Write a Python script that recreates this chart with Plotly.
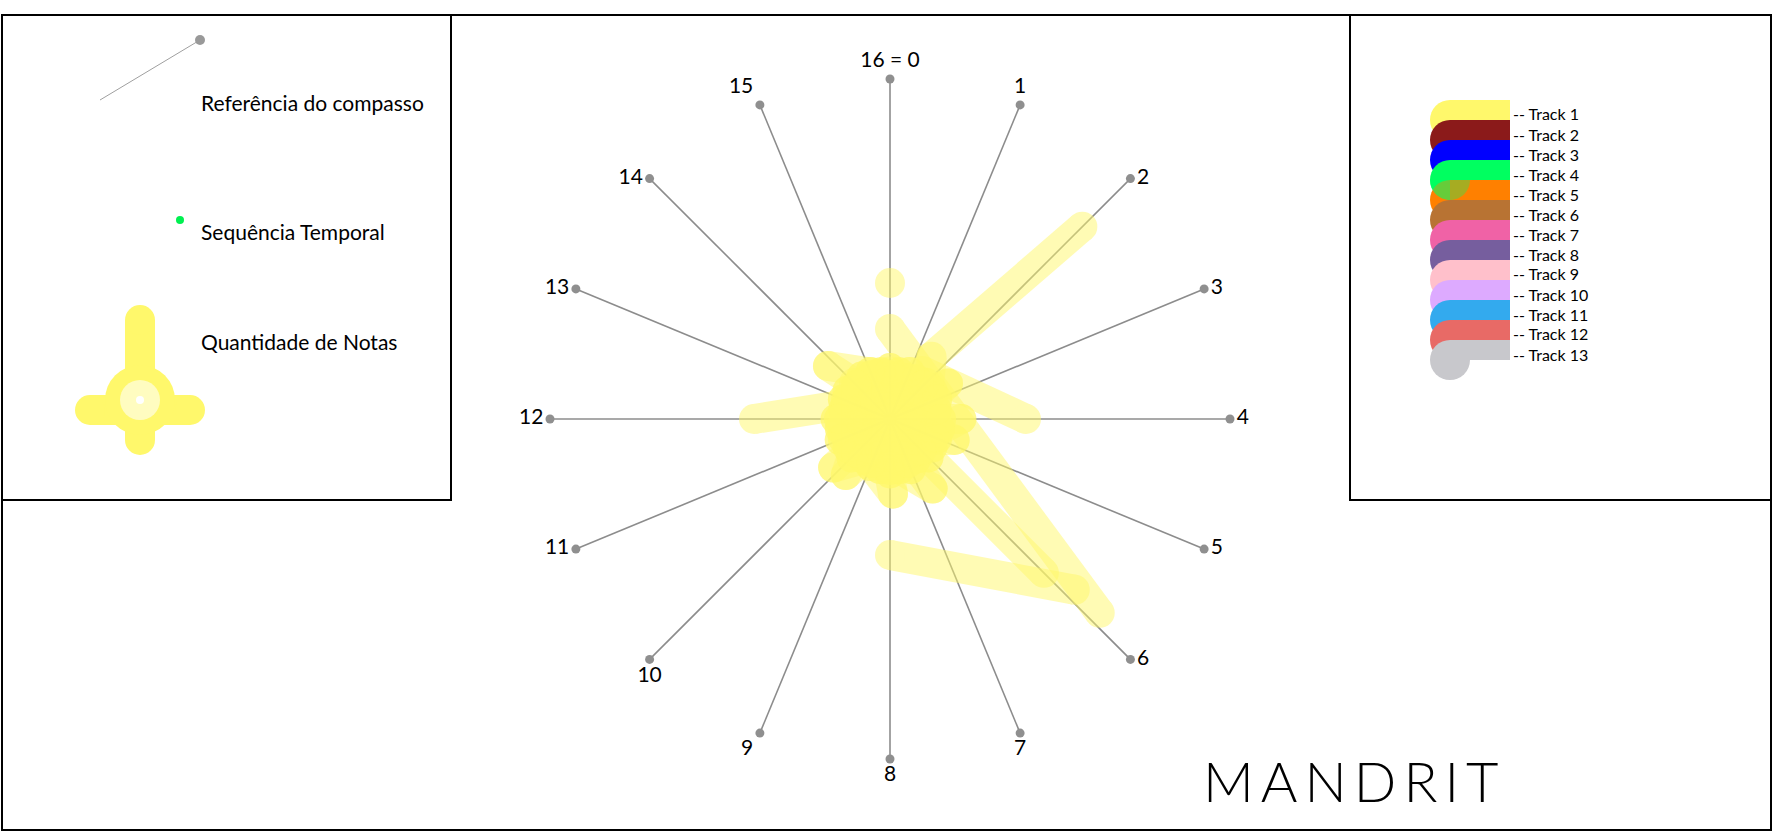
import plotly.graph_objects as go

W, H = 1780, 840

# ---------------- data ----------------
# compass reference: 16 steps of the measure
steps = list(range(16))
step_labels = ["16 = 0"] + [str(i) for i in range(1, 16)]
label_pos = ["top center", "top center", "middle right", "middle right", "middle right",
             "middle right", "middle right", "bottom center", "bottom center", "bottom left",
             "bottom center", "middle left", "middle left", "middle left", "middle left",
             "top left"]

# temporal sequence of Track 1 (step in measure, normalised radius); None = pen up
track1_step = [
    0, None,
    0, 5.9, None,
    4, 1.5, None,
    12, 13, None,
    8, 5.9, None,
    6, 6, None,
    2, 1.5, 3, 11, 6.6, 14, 13.8, 1, 9, 4, 12, 7.9, 15, 2, 10.2, 5, 13, 8, 0, 6, 12,
    2.6, 9.7, 14, 4.8, 11, 1, 7, 13, 4, 10, 15, 8, 2, 0,
    0.5, 8.5, 4.5, 12.5, 2.5, 10.5, 6.5, 14.5, 1.5, 9.5, 5.5, 13.5, 3.5, 11.5, 7.5, 15.5,
    3, 11, 7, 15, 5, 13, 1, 9, 6, 14, 10, 2, 12, 4, 8, 0,
]
track1_r = [
    0.40, None,
    0.265, 0.84, None,
    0.40, 0.17, None,
    0.40, 0.12, None,
    0.40, 0.74, None,
    0.64, 0.15, None,
    0.80, 0.22, 0.12, 0.14, 0.24, 0.15, 0.24, 0.13, 0.15, 0.21, 0.16, 0.22, 0.14, 0.15,
    0.22, 0.15, 0.15, 0.14, 0.15, 0.16, 0.10, 0.20, 0.21, 0.08, 0.20, 0.16, 0.07, 0.16,
    0.09, 0.06, 0.16, 0.10, 0.16, 0.10, 0.05,
    0.14, 0.15, 0.15, 0.14, 0.15, 0.15, 0.14, 0.15, 0.14, 0.14, 0.15, 0.15, 0.14, 0.15,
    0.15, 0.14,
    0.15, 0.15, 0.14, 0.15, 0.14, 0.14, 0.15, 0.14, 0.13, 0.14, 0.14, 0.14, 0.15, 0.15,
    0.15, 0.14,
]

track_names = ["Track %d" % i for i in range(1, 14)]
track_colors = ["#FFF86B", "#8B1A1A", "#0000FF", "#00FF60", "#FF8000", "#B87333", "#F062A6",
                "#765E9E", "#FFC0CB", "#DDAAFF", "#33AAEE", "#E86A66", "#C8C8CC"]

FONT = "Lato"
STEP_DEG = 360 / 16
STROKE = 30

fig = go.Figure()

# spokes
sp_r, sp_t = [], []
for s in steps:
    sp_r += [0, 1, None]
    sp_t += [s * STEP_DEG, s * STEP_DEG, None]
fig.add_trace(go.Scatterpolar(r=sp_r, theta=sp_t, mode="lines",
                              line=dict(color="#8c8c8c", width=1.6), hoverinfo="skip"))

# track 1 strokes (each segment separately translucent)
segs = []
run = []
for s, r in zip(track1_step + [None], track1_r + [None]):
    if s is None:
        if len(run) == 1:
            segs.append([run[0], run[0]])
        run = []
        continue
    if run:
        segs.append([run[-1], (s, r)])
    run.append((s, r))

for a, b in segs:
    if a == b:
        fig.add_trace(go.Scatterpolar(r=[a[1]], theta=[a[0] * STEP_DEG], mode="markers",
                                      marker=dict(size=STROKE, color=track_colors[0]),
                                      opacity=0.5, hoverinfo="skip"))
    else:
        fig.add_trace(go.Scatterpolar(r=[a[1], b[1]], theta=[a[0] * STEP_DEG, b[0] * STEP_DEG],
                                      mode="lines+markers",
                                      line=dict(color=track_colors[0], width=STROKE),
                                      marker=dict(size=STROKE, color=track_colors[0]),
                                      opacity=0.5, hoverinfo="skip"))

# spoke end dots + labels
fig.add_trace(go.Scatterpolar(r=[1] * 16, theta=[s * STEP_DEG for s in steps],
                              mode="markers+text", text=step_labels, textposition=label_pos,
                              marker=dict(size=9, color="#8f8f8f"),
                              textfont=dict(family=FONT, size=21, color="black"),
                              hoverinfo="skip"))

# ---------------- layout helpers ----------------
def px(x):
    return x / W


def py(y):
    return 1 - y / H


shapes = []


def rect(x0, y0, x1, y1, fill=None, line=None):
    d = dict(type="rect", xref="paper", yref="paper", x0=px(x0), x1=px(x1), y0=py(y1), y1=py(y0))
    if fill:
        d["fillcolor"] = fill
    d["line"] = line if line else dict(width=0)
    shapes.append(d)


def circle(cx, cy, r, fill):
    shapes.append(dict(type="circle", xref="paper", yref="paper",
                       x0=px(cx - r), x1=px(cx + r), y0=py(cy + r), y1=py(cy - r),
                       fillcolor=fill, line=dict(width=0)))


def quarter(cx, cy, r, side, fill):
    k = 0.5523 * r
    if side == "left":
        pts = [(cx, cy), (cx - r, cy), (cx - r, cy + k), (cx - k, cy + r), (cx, cy + r)]
    else:
        pts = [(cx, cy), (cx, cy + r), (cx + k, cy + r), (cx + r, cy + k), (cx + r, cy)]
    f = lambda p: "%.6f,%.6f" % (px(p[0]), py(p[1]))
    path = "M %s L %s C %s %s %s Z" % (f(pts[0]), f(pts[1]), f(pts[2]), f(pts[3]), f(pts[4]))
    shapes.append(dict(type="path", xref="paper", yref="paper", path=path,
                       fillcolor=fill, line=dict(width=0)))


# frames
frame = dict(color="black", width=2)
rect(2, 15, 1771, 830, line=frame)
rect(2, 15, 451, 500, line=frame)
rect(1350, 15, 1771, 500, line=frame)

# left legend glyphs
shapes.append(dict(type="line", xref="paper", yref="paper", x0=px(100), y0=py(100),
                   x1=px(200), y1=py(40), line=dict(color="#a0a0a0", width=1)))
circle(200, 40, 5, "#999999")
circle(180, 220, 4, "#00F050")
Y = "#FFF86B"
rect(125, 320, 155, 440, fill=Y)
circle(140, 320, 15, Y)
circle(140, 440, 15, Y)
rect(90, 395, 190, 425, fill=Y)
circle(90, 410, 15, Y)
circle(190, 410, 15, Y)
circle(140, 400, 35, Y)
circle(140, 400, 20, "#FFFCC0")
circle(140, 400, 4, "white")

# right legend swatches
annotations = []
for i, (name, col) in enumerate(zip(track_names, track_colors)):
    top = 100 + 20 * i
    circle(1450, top + 20, 20, col)
    rect(1450, top, 1510, top + 20, fill=col)
    annotations.append(dict(text="-- " + name, x=px(1511), y=py(top + 14), xref="paper",
                            yref="paper", xanchor="left", yanchor="middle", showarrow=False,
                            font=dict(family=FONT, size=16, color="black")))
quarter(1450, 180, 20, "left", "rgba(0,255,96,0.6)")
quarter(1450, 180, 20, "right", "rgba(0,255,96,0.35)")

for txt, yy in [("Referência do compasso", 102), ("Sequência Temporal", 231),
                ("Quantidade de Notas", 341)]:
    annotations.append(dict(text=txt, x=px(199), y=py(yy), xref="paper", yref="paper",
                            xanchor="left", yanchor="middle", showarrow=False,
                            font=dict(family=FONT, size=21, color="black")))

annotations.append(dict(text="\u2009".join("MANDRIT"), x=px(1350), y=py(780), xref="paper",
                        yref="paper", xanchor="center", yanchor="middle", showarrow=False,
                        font=dict(family=FONT, size=56, color="black", weight=300)))

R_OUT = 340 * 1.15
cx, cy = 890, 419
fig.update_layout(
    width=W, height=H, margin=dict(l=0, r=0, t=0, b=0),
    paper_bgcolor="white", plot_bgcolor="white", showlegend=False,
    polar=dict(
        domain=dict(x=[px(cx - R_OUT), px(cx + R_OUT)], y=[py(cy + R_OUT), py(cy - R_OUT)]),
        bgcolor="rgba(0,0,0,0)",
        radialaxis=dict(visible=False, range=[0, 1.15]),
        angularaxis=dict(visible=False, rotation=90, direction="clockwise"),
    ),
    shapes=shapes, annotations=annotations,
)

fig.write_html("out.html", config={"displayModeBar": False},
               post_script="document.body.style.margin='0';document.body.style.overflow='hidden';")
